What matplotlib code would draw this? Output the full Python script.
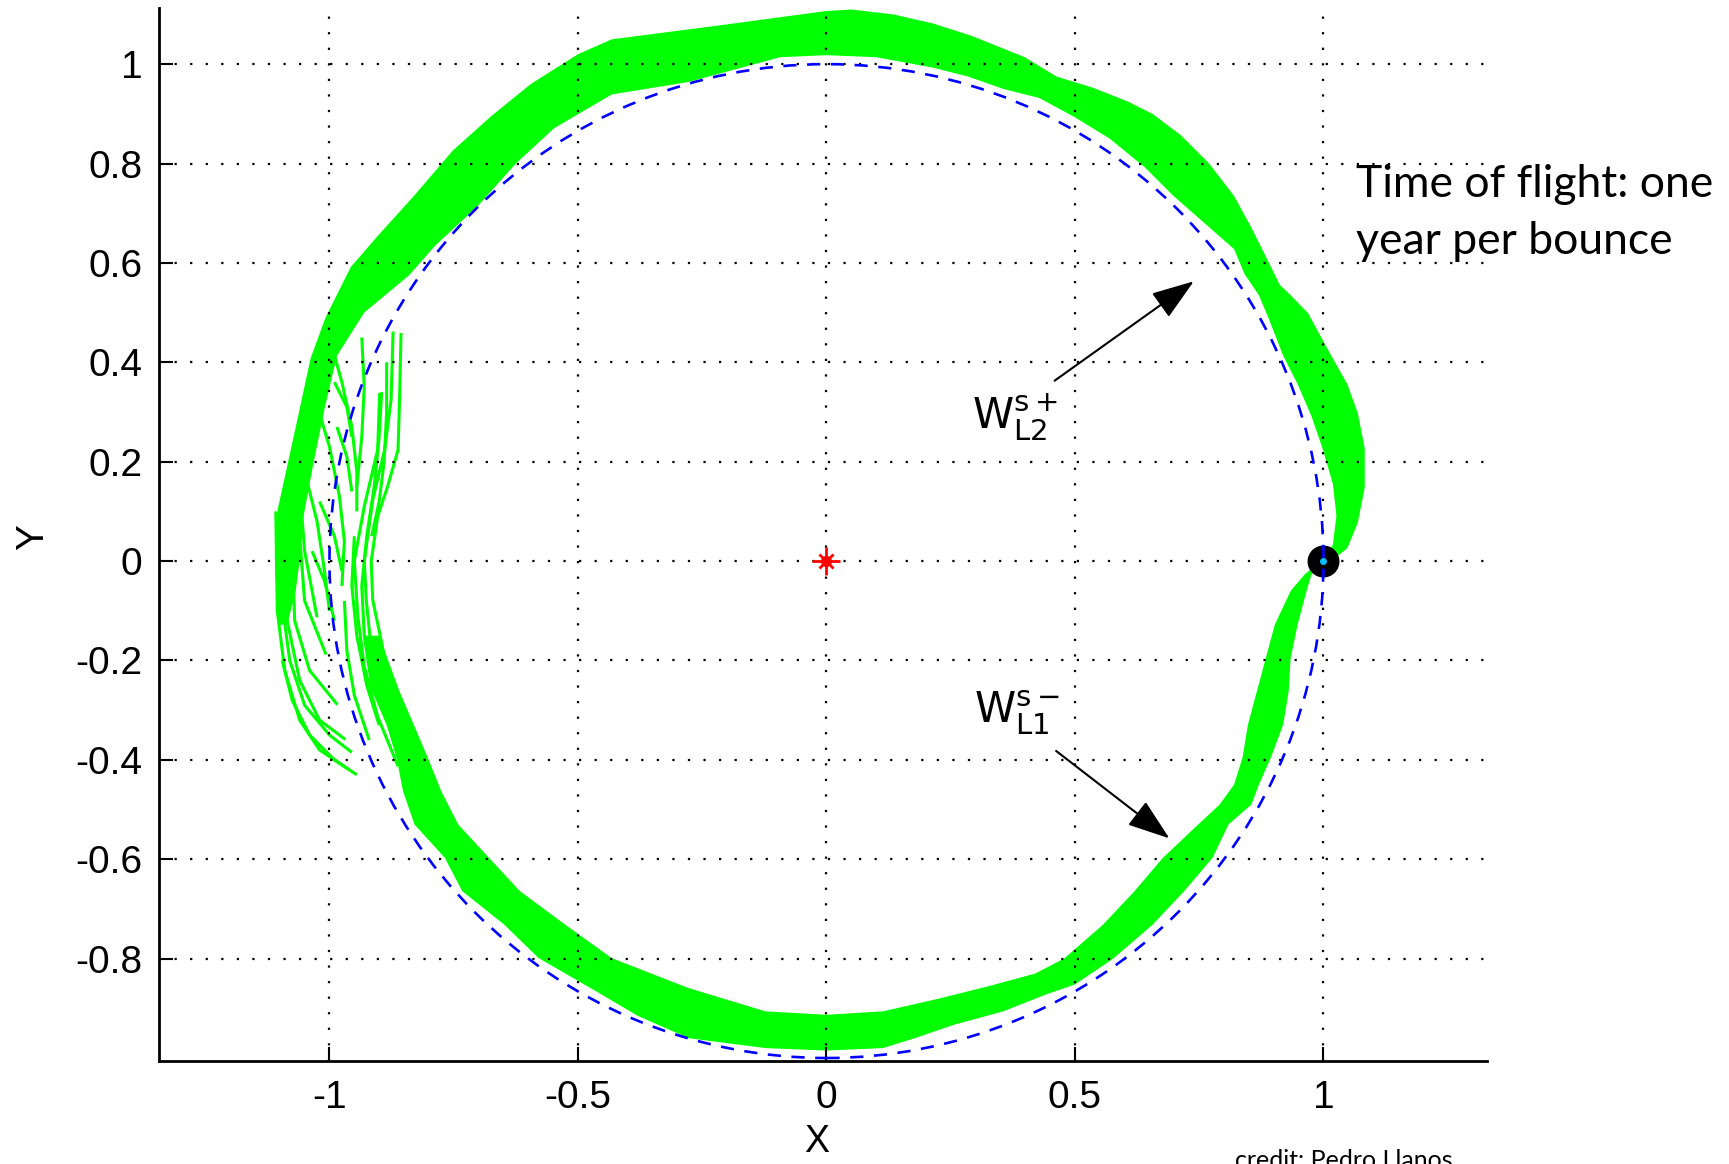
import matplotlib
matplotlib.use('Agg')
import matplotlib.pyplot as plt
from matplotlib.patches import Circle

# ---------------------------------------------------------------
# values (data units, rotating frame)

xtick_vals = [-1, -0.5, 0, 0.5, 1]
xtick_labels = ['-1', '-0.5', '0', '0.5', '1']
ytick_vals = [-0.8, -0.6, -0.4, -0.2, 0, 0.2, 0.4, 0.6, 0.8, 1]
ytick_labels = ['-0.8', '-0.6', '-0.4', '-0.2', '0', '0.2', '0.4', '0.6', '0.8', '1']

orbit_radius = 1.0          # blue dashed circle
sun_x = [0.0]
sun_y = [0.0]
lpoint_x = [1.0]            # black blob near Earth / L1-L2
lpoint_y = [0.0]

# dense part of the green manifold tube: outer edge (far from the origin)
band_outer_x = [-0.93, -0.915, -0.885, -0.865, -0.852, -0.829, -0.768, -0.733, -0.648, -0.579,
                -0.463, -0.38, -0.278, -0.123, 0.0, 0.114, 0.178, 0.257, 0.356, 0.442,
                0.5, 0.577, 0.656, 0.72, 0.777, 0.809, 0.855, 0.87, 0.894, 0.919,
                0.93, 0.934, 0.948, 0.966, 0.976, 1.01, 1.048, 1.069, 1.083, 1.083,
                1.069, 1.048, 1.012, 0.969, 0.934, 0.912, 0.891, 0.855, 0.82, 0.77,
                0.713, 0.656, 0.606, 0.535, 0.463, 0.399, 0.292, 0.214, 0.135, 0.05,
                0.0, -0.208, -0.432, -0.5, -0.595, -0.675, -0.752, -0.83, -0.905, -0.957,
                -1.008, -1.038, -1.06, -1.082, -1.104, -1.11, -1.107, -1.103]
band_outer_y = [-0.15, -0.26, -0.33, -0.396, -0.463, -0.53, -0.597, -0.664, -0.732, -0.799,
                -0.866, -0.915, -0.96, -0.98, -0.985, -0.98, -0.96, -0.933, -0.906, -0.872,
                -0.852, -0.8, -0.732, -0.664, -0.597, -0.53, -0.49, -0.45, -0.396, -0.329,
                -0.262, -0.195, -0.128, -0.06, -0.027, -0.005, 0.026, 0.077, 0.148, 0.227,
                0.298, 0.356, 0.42, 0.499, 0.535, 0.556, 0.599, 0.671, 0.735, 0.80,
                0.857, 0.90, 0.925, 0.953, 0.975, 1.014, 1.057, 1.082, 1.10, 1.11,
                1.107, 1.079, 1.05, 1.02, 0.96, 0.895, 0.826, 0.735, 0.652, 0.592,
                0.49, 0.408, 0.306, 0.205, 0.105, 0.012, -0.06, -0.128]

# inner edge (near the origin), same direction of travel
band_inner_x = [-0.90, -0.86, -0.83, -0.802, -0.775, -0.741, -0.679, -0.617, -0.525, -0.432,
                -0.278, -0.123, 0.0, 0.114, 0.228, 0.328, 0.42, 0.478, 0.556, 0.62,
                0.677, 0.748, 0.791, 0.82, 0.837, 0.848, 0.866, 0.884, 0.902, 0.934,
                0.962, 0.99, 1.005, 1.019, 1.026, 1.019, 0.998, 0.976, 0.948, 0.919,
                0.891, 0.87, 0.841, 0.82, 0.755, 0.698, 0.641, 0.57, 0.5, 0.428,
                0.356, 0.285, 0.214, 0.1, 0.0, -0.093, -0.278, -0.432, -0.548, -0.625,
                -0.702, -0.787, -0.84, -0.93, -0.985, -1.01, -1.032, -1.052, -1.06, -1.068,
                -1.085]
band_inner_y = [-0.15, -0.26, -0.33, -0.396, -0.463, -0.53, -0.597, -0.664, -0.732, -0.799,
                -0.859, -0.906, -0.913, -0.906, -0.88, -0.855, -0.83, -0.8, -0.732, -0.664,
                -0.597, -0.53, -0.49, -0.45, -0.396, -0.329, -0.262, -0.195, -0.128, -0.06,
                -0.027, -0.003, 0.006, 0.034, 0.091, 0.155, 0.227, 0.291, 0.356, 0.413,
                0.485, 0.535, 0.578, 0.628, 0.685, 0.735, 0.792, 0.85, 0.893, 0.932,
                0.95, 0.975, 0.993, 1.014, 1.018, 1.014, 0.964, 0.939, 0.871, 0.80,
                0.714, 0.635, 0.575, 0.50, 0.413, 0.306, 0.198, 0.091, 0.0, -0.06,
                -0.128]

# loose strands on the far (left) side
strands = [
    # inner bundle that ends in a hook near y = 0.46
    ([-0.856, -0.859, -0.862, -0.883, -0.903, -0.916, -0.913, -0.899, -0.879, -0.849, -0.795],
     [0.459, 0.325, 0.224, 0.150, 0.09, 0.0, -0.078, -0.145, -0.245, -0.346, -0.48]),
    ([-0.872, -0.876, -0.889, -0.913, -0.93, -0.926, -0.916, -0.893, -0.862, -0.822],
     [0.462, 0.325, 0.224, 0.123, 0.0, -0.078, -0.178, -0.279, -0.38, -0.48]),
    ([-0.899, -0.903, -0.93, -0.95, -0.943, -0.93, -0.903, -0.862],
     [0.338, 0.224, 0.11, 0.0, -0.111, -0.212, -0.313, -0.413]),
    ([-0.885, -0.885, -0.89, -0.90, -0.915], [0.40, 0.30, 0.20, 0.12, 0.05]),
    ([-0.895, -0.90, -0.91, -0.925, -0.935, -0.93, -0.915], [0.34, 0.25, 0.15, 0.05, -0.05, -0.15, -0.25]),
    ([-0.935, -0.93, -0.935, -0.945], [0.45, 0.35, 0.25, 0.15]),
    # ribs between outer and inner strands
    ([-1.00, -0.975, -0.955, -0.945, -0.945], [0.45, 0.36, 0.27, 0.18, 0.10]),
    ([-1.03, -1.0, -0.98, -0.97, -0.975], [0.33, 0.23, 0.13, 0.04, -0.05]),
    ([-1.05, -1.025, -1.01, -1.0], [0.18, 0.08, -0.02, -0.10]),
    ([-0.95, -0.955, -0.945, -0.925, -0.90], [0.05, -0.05, -0.15, -0.25, -0.33]),
    ([-0.97, -0.965, -0.95, -0.92], [-0.08, -0.18, -0.27, -0.36]),
    ([-0.99, -0.965, -0.955], [0.36, 0.31, 0.25]),
    ([-0.985, -0.965, -0.955], [0.27, 0.21, 0.14]),
    ([-1.02, -0.99, -0.975], [0.12, 0.05, -0.02]),
    ([-1.035, -1.01, -0.99], [0.02, -0.04, -0.12]),
    # fan of strands ending in the lower left
    ([-1.108, -1.105, -1.09, -1.06, -1.02, -0.945], [0.10, -0.10, -0.22, -0.32, -0.38, -0.43]),
    ([-1.09, -1.085, -1.06, -1.02, -0.968], [0.05, -0.12, -0.24, -0.32, -0.359]),
    ([-1.075, -1.07, -1.04, -0.984], [0.02, -0.12, -0.22, -0.289]),
    ([-1.06, -1.05, -1.007], [0.05, -0.08, -0.188]),
    ([-1.06, -1.05, -1.025], [0.15, 0.02, -0.113]),
    ([-1.1, -1.08, -1.05, -1.0, -0.955], [-0.05, -0.2, -0.29, -0.35, -0.385]),
    ([-1.095, -1.075, -1.04, -0.99, -0.96], [-0.2, -0.28, -0.35, -0.40, -0.42]),
]

# annotation labels and arrows (text position, arrow tail, arrow tip)
ann_labels = [r'$\mathrm{W}^{\mathrm{s+}}_{\mathrm{L2}}$', r'$\mathrm{W}^{\mathrm{s-}}_{\mathrm{L1}}$']
ann_text_xy = [(0.292, 0.264), (0.296, -0.326)]
ann_tail_xy = [(0.459, 0.363), (0.462, -0.382)]
ann_tip_xy = [(0.739, 0.563), (0.69, -0.558)]

side_note = ['Time of flight: one', 'year per bounce']
credit = 'credit: Pedro Llanos'

# ---------------------------------------------------------------

plt.rcParams['mathtext.fontset'] = 'dejavusans'

W, H = 1729, 1164
fig = plt.figure(figsize=(W / 100, H / 100), dpi=100)
fig.patch.set_facecolor('white')
ax = fig.add_axes([159 / W, 1 - 1061 / H, (1487 - 159) / W, (1061 - 8) / H])

green = '#00ff00'

band_x = band_outer_x + band_inner_x[::-1]
band_y = band_outer_y + band_inner_y[::-1]
ax.fill(band_x, band_y, color=green, lw=0, zorder=1)
for sx, sy in strands:
    ax.plot(sx, sy, color=green, lw=2.2, zorder=1.5, solid_capstyle='butt')

ax.plot(lpoint_x, lpoint_y, 'o', color='black', ms=22, zorder=3)
ax.plot(lpoint_x, lpoint_y, 'o', color='#00c0ff', ms=4, zorder=3.2)

ax.add_patch(Circle((0, 0), orbit_radius, fill=False, ec='#0000ff', lw=1.9,
                    ls=(0, (5, 4)), zorder=3.1))

ax.plot(sun_x, sun_y, '+', color='red', ms=20, mew=2.0, zorder=4)
ax.plot(sun_x, sun_y, 'x', color='red', ms=10, mew=2.0, zorder=4)
ax.plot(sun_x, sun_y, 'o', color='red', ms=7, zorder=4)

for lab, txy, tail, tip in zip(ann_labels, ann_text_xy, ann_tail_xy, ann_tip_xy):
    ax.text(txy[0], txy[1], lab, fontsize=30, ha='left', va='baseline', zorder=5)
    ax.annotate('', xy=tip, xytext=tail,
                arrowprops=dict(arrowstyle='-|>,head_length=1.2,head_width=0.42',
                                color='black', lw=1.5, mutation_scale=22,
                                shrinkA=0, shrinkB=0), zorder=5)

ax.set_xlim(-1.343, 1.329)
ax.set_ylim(-1.006, 1.113)

ax.set_xticks(xtick_vals)
ax.set_xticklabels(xtick_labels)
ax.set_yticks(ytick_vals)
ax.set_yticklabels(ytick_labels)
for lab in ax.get_xticklabels() + ax.get_yticklabels():
    lab.set_family('Liberation Sans')
    lab.set_fontsize(28)
ax.tick_params(direction='in', length=10, width=1.5, top=False, right=False)
ax.tick_params(axis='x', pad=14)
ax.tick_params(axis='y', pad=12)

ax.spines['top'].set_visible(False)
ax.spines['right'].set_visible(False)
ax.spines['left'].set_linewidth(2.0)
ax.spines['bottom'].set_linewidth(2.0)

ax.set_axisbelow(False)
ax.grid(True, color='black', lw=1.6, ls=(0, (1, 6)))

ax.set_xlabel('X', family='Liberation Sans', fontsize=27, va='center')
ax.xaxis.set_label_coords((817 - 159) / 1328, -(1142 - 1061) / 1053)
ax.set_ylabel('Y', family='Liberation Sans', fontsize=28, va='center', ha='center')
ax.yaxis.set_label_coords((33 - 159) / 1328, (1061 - 537) / 1053)

fig.text(1356 / W, 1 - 197 / H, side_note[0], family='Lato', fontsize=32, va='baseline')
fig.text(1356 / W, 1 - 254 / H, side_note[1], family='Lato', fontsize=32, va='baseline')
fig.text(1235 / W, 1 - 1168 / H, credit, family='Lato', fontsize=18, va='baseline')

fig.savefig('out.png', dpi=100)
